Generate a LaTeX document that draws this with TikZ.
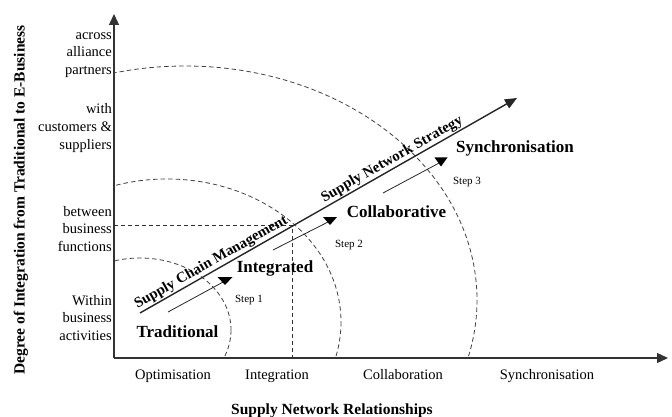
\documentclass[tikz,border=0pt]{standalone}
\usepackage{fontspec}
\setmainfont{Liberation Serif}
\usetikzlibrary{arrows.meta}
\begin{document}
\begin{tikzpicture}[x=1pt,y=-1pt,
  axis/.style={line width=1.3pt, draw=black!80, -{Triangle[length=11pt,width=10pt]}},
  ring/.style={dash pattern=on 4.5pt off 3pt, line width=0.8pt, draw=black!75},
  guide/.style={dash pattern=on 4pt off 3pt, line width=0.8pt, draw=black!80},
  lvl/.style={font=\fontsize{14.5}{17.8}\selectfont, align=right, anchor=east, inner sep=0pt},
  xlbl/.style={font=\fontsize{14.5}{16}\selectfont, inner sep=0pt, anchor=base},
  stage/.style={font=\bfseries\fontsize{17}{20}\selectfont, inner sep=0pt, anchor=base},
  steplbl/.style={font=\fontsize{11}{12}\selectfont, inner sep=0pt, anchor=base},
  stepline/.style={line width=0.8pt, draw=black!85},
  steptip/.style={fill=black},
  strategy/.style={line width=1.4pt, draw=black!85, -{Triangle[length=12pt,width=10pt]}},
  slopedlabel/.style={font=\bfseries\fontsize{14.8}{16}\selectfont, sloped, above, inner sep=1pt},
  title/.style={font=\bfseries\fontsize{15.5}{17}\selectfont, inner sep=0pt}
]
\useasboundingbox (0,0) rectangle (672,417);

% axes
\coordinate (O) at (114,358);
\coordinate (ytop) at (114,14);
\coordinate (xend) at (668,358);
\draw[axis] (O) -- (ytop);
\draw[axis] (O) -- (xend);

% dashed zones of integration
\begin{scope}
  \clip (114,0) rectangle (672,358);
  \draw[ring] (140,330) ellipse [x radius=91, y radius=72];
  \draw[ring] (167,322) ellipse [x radius=174, y radius=143];
  \draw[ring] (185,300) ellipse [x radius=292, y radius=234];
\end{scope}

% guide lines for "between business functions" / "Integration"
\coordinate (gA) at (114,225);
\coordinate (gB) at (292,225);
\coordinate (gC) at (292,358);
\draw[guide] (gA) -- (gB) -- (gC);

% strategy line
\coordinate (scmS) at (140,313);
\coordinate (snsE) at (517,98);
\draw[strategy] (scmS) -- (snsE)
  node[pos=0.2, slopedlabel] (scm) {Supply Chain Management}
  node[pos=0.68, slopedlabel] (sns) {Supply Network Strategy};

% steps
\coordinate (s1) at (168,312);
\coordinate (h1) at (225,281);
\coordinate (s2) at (273,250);
\coordinate (h2) at (330,221);
\coordinate (s3) at (383,193);
\coordinate (h3) at (441,162);
\draw[stepline] (s1) -- (h1);
\draw[stepline] (s2) -- (h2);
\draw[stepline] (s3) -- (h3);
\fill[steptip] (h1) ++(-7.5,-4) -- ++(15,0) -- ++(-7.5,8) -- cycle;
\fill[steptip] (h2) ++(-7,-4) -- ++(14,0) -- ++(-7,8) -- cycle;
\fill[steptip] (h3) ++(-6.5,-4.5) -- ++(13,0) -- ++(-6.5,9) -- cycle;
\node[steplbl] (st1) at (249,302) {Step 1};
\node[steplbl] (st2) at (349,247) {Step 2};
\node[steplbl] (st3) at (467,185) {Step 3};

% stages
\node[stage] (trad) at (177.5,337) {Traditional};
\node[stage] (integ) at (275,272) {Integrated};
\node[stage] (collab) at (396.5,217) {Collaborative};
\node[stage] (sync) at (515,153) {Synchronisation};

% levels of integration
\node[lvl] (l4) at (112,55) {across\\alliance\\partners};
\node[lvl] (l3) at (112,128) {with\\customers \&\\suppliers};
\node[lvl] (l2) at (112,229) {between\\business\\functions};
\node[lvl] (l1) at (112,318) {Within\\business\\activities};

% relationship types
\node[xlbl] (x1) at (173,379) {Optimisation};
\node[xlbl] (x2) at (277,379) {Integration};
\node[xlbl] (x3) at (403,379) {Collaboration};
\node[xlbl] (x4) at (547,379) {Synchronisation};

% axis titles
\node[title, anchor=base] (xt) at (332,414) {Supply Network Relationships};
\node[title, rotate=90] (yt) at (21,200) {Degree of Integration from Traditional to E-Business};
\end{tikzpicture}
\end{document}
